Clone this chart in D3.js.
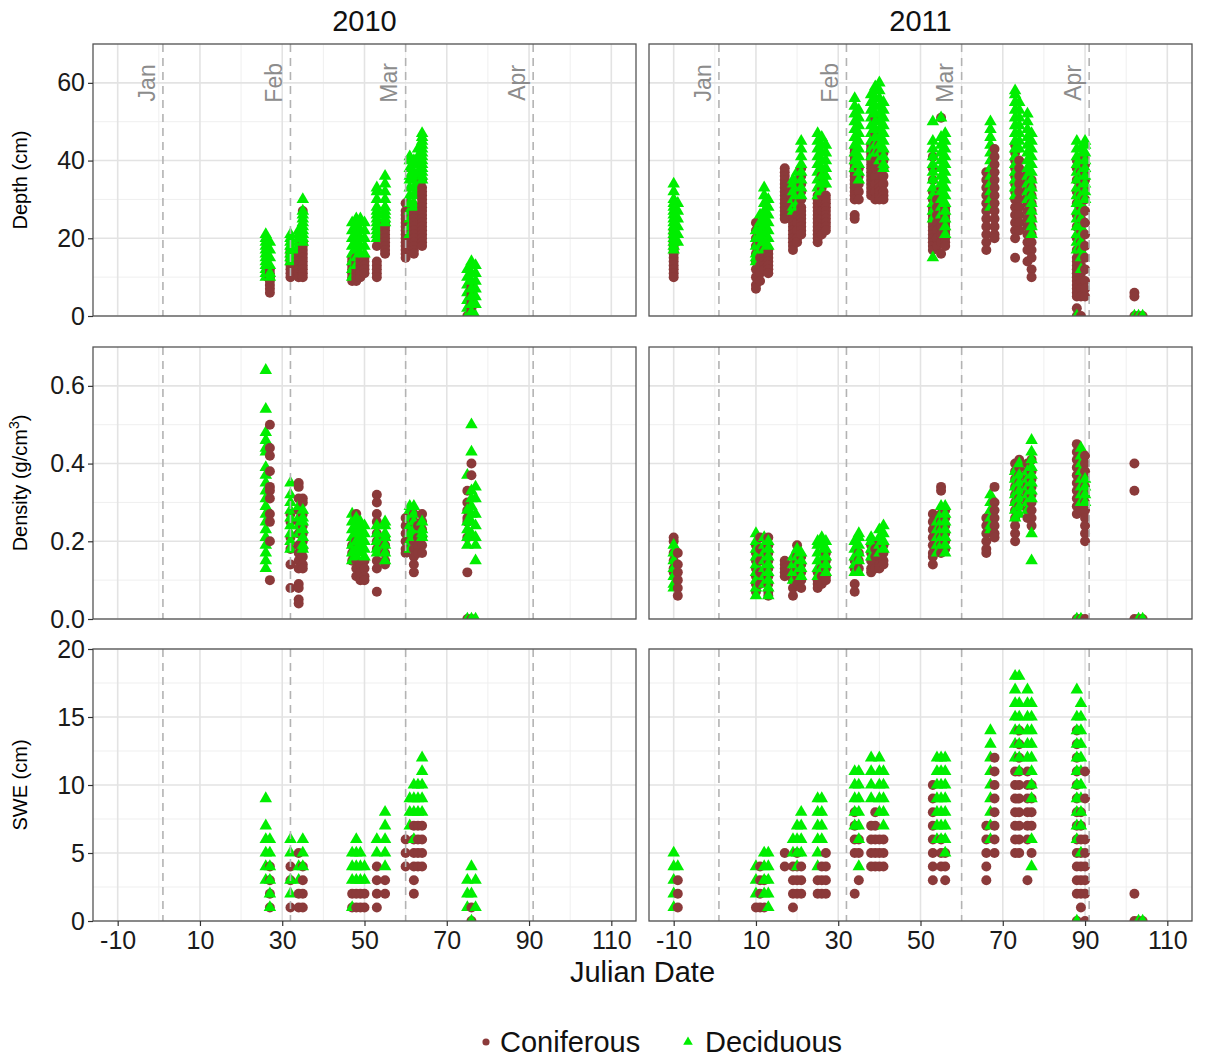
<!DOCTYPE html>
<html><head><meta charset="utf-8">
<script src="https://cdn.jsdelivr.net/npm/d3@7"></script>
<style>body{margin:0;background:#fff}svg{display:block;font-family:"Liberation Sans",Arial,sans-serif}</style>
</head><body>
<script>
// ---------- DATA ----------
const years = ["2010","2011"];
const xTicks = [-10,10,30,50,70,90,110];
const xTickLabels = ["-10","10","30","50","70","90","110"];
const xMinor = [0,20,40,60,80,100];
const depthTicks = [0,20,40,60];
const densityTicks = [0,0.2,0.4,0.6];
const sweTicks = [0,5,10,15,20];
const monthDays = [1,32,60,91];
const monthNames = ["Jan","Feb","Mar","Apr"];
const monthLabelX = [-3,28,56,87];
const seriesNames = ["Coniferous","Deciduous"];

const depth2010Con = [[27,[12,11,10,9,8,7,6]],[32,[17,16,15,14,13,12,11,10]],[34,[16,15,14,13,12,11,10]],[35,[27,19,18,17,16,15,14,13,12,11,10]],[47,[15,14,13,12,11,10,9]],[48,[15,14,13,12,11,10,9]],[49,[15,14,13,12,11,10]],[50,[15,14,13,12,11]],[53,[18,14,13,12,11,10]],[55,[24,23,22,21,20,19,18,17,16]],[60,[29,27,26,25,24,23,22,21,20,19,18,17,16,15]],[62,[28,27,26,25,24,23,22,21,20,19,18,17,16]],[64,[35,33,32,31,30,29,28,27,26,25,24,23,22,21,20,19,18]],[75,[0]],[76,[8,7,6,5,4,3,2,1,0]]];
const depth2010Dec = [[26,[21,20,19,18,17,16,15,14,13,12,11,10]],[27,[19,17,15,13,11,10]],[32,[21,20,19,18,17,16,15,14]],[34,[22,21,20,19,18,17]],[35,[30,27,26,25,24,23,22,21,20,19]],[47,[24,22,20,18,16,14,12,10]],[48,[25,23,21,19,17,15,13]],[49,[25,24,22,20,18,16]],[50,[24,22,20,18,16]],[53,[33,32,30,28,27,26,25,24,23,22,21,20]],[55,[36,34,32,30,28,27,26,25,24]],[61,[41,40,38,36,35,33,31,29,27,25,23,21]],[62,[40,39,37,35,33,31,29,28]],[63,[43,41,39,37,36,34,32]],[64,[47,46,45,44,43,42,41,40,39,38,37,36,35]],[75,[12,10,8,6,4,2,0]],[76,[14,13,11,9,7,5,3,1]],[77,[13,11,9,7,5,3,0]]];

const density2010Con = [[27,[0.50,0.44,0.42,0.38,0.34,0.33,0.31,0.27,0.25,0.2,0.1]],[32,[0.27,0.25,0.21,0.18,0.14,0.08]],[34,[0.35,0.34,0.31,0.28,0.25,0.22,0.19,0.17,0.15,0.13,0.09,0.08,0.05,0.04]],[35,[0.31,0.3,0.27,0.24,0.22,0.2,0.18,0.16,0.14,0.13]],[47,[0.19,0.17,0.15]],[48,[0.27,0.2,0.15,0.13,0.11]],[49,[0.14,0.12,0.1]],[50,[0.15,0.13,0.11,0.1]],[53,[0.32,0.3,0.27,0.25,0.22,0.2,0.18,0.15,0.13,0.07]],[55,[0.21,0.19,0.17,0.15,0.14]],[60,[0.26,0.24,0.22,0.2,0.18,0.17]],[62,[0.27,0.25,0.2,0.18,0.16,0.14,0.12]],[63,[0.24,0.21,0.19,0.17]],[64,[0.27,0.25,0.23,0.21,0.19,0.17]],[75,[0.33,0.3,0.28,0.26,0.25,0.21,0.12,0]],[76,[0.4,0.37,0]]];
const density2010Dec = [[26,[0.64,0.54,0.48,0.46,0.44,0.43,0.39,0.37,0.35,0.33,0.31,0.29,0.27,0.25,0.23,0.21,0.19,0.17,0.15,0.13]],[32,[0.35,0.32,0.30,0.28,0.26,0.24,0.22,0.20,0.18]],[34,[0.29,0.26,0.24,0.22]],[35,[0.28,0.26,0.25,0.23,0.21,0.19,0.18]],[47,[0.27,0.25,0.23,0.21,0.19,0.17,0.15]],[48,[0.26,0.24,0.22,0.2,0.18,0.16]],[49,[0.25,0.23,0.21,0.19,0.17]],[50,[0.24,0.22,0.2,0.18,0.16]],[53,[0.24,0.22,0.2,0.18,0.17]],[55,[0.25,0.24,0.22,0.21,0.19,0.17,0.15]],[61,[0.29,0.28,0.26,0.24,0.22,0.2,0.18]],[62,[0.29,0.27,0.25,0.23,0.21]],[64,[0.25,0.23,0.22,0.21]],[75,[0.37,0.28,0.25,0.23,0.21,0.19,0]],[76,[0.5,0.43,0.33,0.31,0.29,0.27,0.25,0.22,0]],[77,[0.34,0.31,0.27,0.24,0.21,0.19,0.15,0]]];

const swe2010Con = [[27,[4,3,2,1]],[32,[4,3,1]],[34,[5,2,1]],[35,[4,3,2,1]],[47,[2,1]],[48,[2,1]],[49,[2,1]],[50,[2,1]],[53,[4,3,2,1]],[55,[3,2]],[60,[6,5,4]],[62,[7,6,5,4,3,2]],[63,[7,6,5,4]],[64,[7,6,5,4]],[76,[1,0]]];
const swe2010Dec = [[26,[9,7,6,5,4,3]],[27,[6,5,4,3,2,1]],[32,[6,5,3,2]],[34,[4,3]],[35,[6,5,4]],[47,[5,4,3,1]],[48,[6,5,4,3]],[49,[5,4,3]],[50,[4,3]],[53,[6,5]],[55,[8,7,6,5,4]],[61,[9,8,7]],[62,[10,9,8,6]],[63,[10,9,8]],[64,[12,11,10,9,8]],[75,[3,2,1]],[76,[4,2,0]],[77,[3,1]]];

const depth2011Con = [[-10,[22,21,20,19,18,17,16,15,14,13,12,11,10]],[10,[24,22,20,18,16,14,12,10,8,7]],[11,[21,19,17,15,13,11,9]],[12,[17,16,15,14,13,12]],[13,[17,16,15,14,13,12,11]],[17,[38,37,36,35,34,33,32,31,30,29,28,27,26,25]],[19,[33,31,30,29,28,27,26,25,24,23,22,21,20,19,18,17]],[20,[30,28,26,24,22,20,19]],[21,[38,36,34,32,30,28,27,26,25,24,23,22,21]],[25,[31,30,29,28,27,26,25,24,23,22,21,20,19]],[26,[36,33,31,29,27,25,23,21]],[27,[31,30,29,28,27,26,25,24,23,22]],[34,[43,42,41,40,39,38,37,36,35,34,33,32,31,30,26,25]],[35,[38,36,34,32,30]],[38,[44,43,42,41,40,39,38,37,36,35,34,33,32,31]],[39,[51,47,44,42,40,38,36,34,32,30]],[40,[44,42,40,38,36,34,33,32,31,30]],[41,[42,40,38,36,34,32,31,30]],[53,[41,38,35,32,30,28,27,26,25,24,23,22,21,20,19,18,17]],[54,[30,28,26,24,22,20,18]],[55,[51,33,31,29,27,25,23,21,19,16]],[56,[28,27,26,25,24,23,22,21,20,19,18]],[66,[37,35,33,31,29,27,25,23,21,19,17]],[68,[43,41,39,37,35,33,31,29,27,25,23,21,20]],[73,[44,42,40,38,36,34,32,30,28,26,24,22,20,15]],[74,[40,38,36,34,32,30,28,26,24,22]],[76,[37,35,33,31,29,27,25,23,21,19,17,14]],[77,[35,33,31,29,27,25,23,21,19,17,15,12,10]],[88,[40,38,35,32,29,26,23,20,17,15,14,13,12,11,10,9,8,7,6,5,2,0]],[89,[37,34,31,28,25,22,19,17,15,13,11,9,7,5,0]],[90,[41,39,37,35,33,30,27,24,21,18,15,12,9,7,5]],[102,[6,5,0]],[103,[0]],[104,[0]]];
const depth2011Dec = [[-10,[34,32,30,29,28,27,26,25,24,23,22,21,20,19,18,17]],[-9,[29,27,25,23,21,19]],[10,[22,20,18,16,15,14]],[11,[26,24,22,21,20,18,17]],[12,[33,31,29,27,25,23,21,19,17]],[13,[30,28,26,24,22,20,18]],[19,[35,34,32,30,28,27]],[20,[37,35,33,31,29,28]],[21,[45,43,41,39,37,35,33,31]],[25,[47,45,43,41,39,37,35,33,31]],[26,[46,44,42,40,38,36,34,32]],[27,[44,42,40,38,36,34]],[34,[56,54,52,50,48,46,44,42,40,38]],[35,[53,51,49,47,45,43,41,39,37,35]],[38,[57,55,53,51,49,47,45,43,41]],[39,[59,58,56,54,52,50,48,46,44,42]],[40,[60,58,56,54,52,50,48,46,44,42,40]],[41,[55,53,51,49,47,45,43,41,39,38]],[53,[50,45,43,41,39,37,35,33,31,29,27,25,15]],[55,[51,46,44,42,40,38,36,34,32,30,28,26]],[56,[47,45,43,41,39,37,35,33,31,29,27,25,23,21]],[67,[50,48,46,44,42,40,38,36,34,32,30,28]],[73,[58,57,55,53,51,49,47,45,43,41,39,37,35,33,31]],[74,[55,53,51,49,47,45,43]],[76,[52,50,48,46,44,42,40,38,36,34,32,30]],[77,[47,45,43,41,39,37,35,33,31,29,27,25,23,21]],[88,[45,43,41,39,37,35,33,31,29,27,25,23,21,19,17,0]],[89,[43,41,39,37,35,33,31,29,27,25,23,21,19,17,15,12]],[90,[45,44,42,40,38,36,34,32,30]],[102,[0]],[103,[0]],[104,[0]]];

const density2011Con = [[-10,[0.21,0.2,0.17,0.15,0.13,0.12]],[-9,[0.17,0.14,0.12,0.1,0.08,0.06]],[10,[0.19,0.17,0.15,0.13,0.11,0.09,0.07]],[11,[0.21,0.18,0.15,0.12,0.09]],[13,[0.21,0.19,0.17,0.15,0.13,0.11,0.09,0.07,0.06]],[17,[0.15,0.14,0.13,0.12,0.11]],[19,[0.14,0.12,0.1,0.08,0.06]],[20,[0.19,0.16,0.15,0.13,0.11,0.09]],[21,[0.16,0.14,0.12,0.1,0.08]],[25,[0.12,0.1,0.09,0.08]],[26,[0.13,0.11,0.09]],[27,[0.17,0.15,0.13,0.11,0.1]],[34,[0.15,0.13,0.09,0.07]],[35,[0.17,0.15,0.13]],[38,[0.19,0.17,0.15,0.13,0.12]],[39,[0.18,0.16,0.14,0.13]],[40,[0.2,0.18,0.16,0.14,0.13]],[41,[0.19,0.17,0.15,0.14]],[53,[0.27,0.25,0.23,0.21,0.19,0.17,0.16,0.14]],[55,[0.34,0.33,0.27,0.25,0.23,0.21,0.19,0.17]],[56,[0.28,0.26,0.24,0.22,0.2,0.18]],[66,[0.26,0.24,0.22,0.2,0.18,0.17]],[68,[0.34,0.3,0.28,0.26,0.24,0.22,0.21]],[73,[0.4,0.38,0.36,0.34,0.32,0.3,0.28,0.26,0.24,0.22,0.2]],[74,[0.41,0.39,0.37,0.35,0.33,0.31,0.29]],[76,[0.4,0.38,0.36,0.34,0.32,0.3,0.28,0.26]],[77,[0.41,0.38,0.36,0.34,0.32,0.3,0.28,0.26,0.24]],[88,[0.45,0.43,0.41,0.39,0.37,0.35,0.33,0.31,0.29,0.27,0]],[89,[0.4,0.36,0.32,0.28,0]],[90,[0.42,0.4,0.38,0.36,0.34,0.32,0.3,0.28,0.26,0.24,0.22,0.2,0]],[102,[0.4,0.33,0]],[103,[0]],[104,[0]]];
const density2011Dec = [[-10,[0.19,0.17,0.15,0.13,0.11,0.09,0.08]],[10,[0.22,0.2,0.18,0.16,0.14,0.12,0.1,0.08,0.06]],[12,[0.21,0.19,0.17,0.15,0.13,0.11,0.09]],[13,[0.2,0.18,0.16,0.14,0.12,0.1,0.08,0.06]],[19,[0.16,0.14,0.12,0.1]],[20,[0.18,0.16,0.14,0.12]],[21,[0.17,0.15,0.13,0.11]],[25,[0.2,0.19,0.17,0.15,0.13,0.11]],[26,[0.21,0.19,0.17,0.15,0.13]],[27,[0.2,0.18,0.16,0.14,0.12]],[34,[0.2,0.18,0.16,0.14,0.12]],[35,[0.22,0.21,0.19,0.17,0.15,0.12]],[38,[0.21,0.2,0.18,0.16]],[40,[0.23,0.21,0.19,0.17]],[41,[0.24,0.22,0.2,0.18]],[54,[0.25,0.23,0.21,0.19,0.17]],[55,[0.29,0.27,0.25,0.23,0.21,0.19]],[56,[0.29,0.27,0.25,0.23,0.21,0.19,0.17]],[67,[0.32,0.3,0.28,0.26,0.24,0.23]],[73,[0.38,0.36,0.34,0.32,0.3,0.28,0.26]],[74,[0.4,0.37,0.35,0.33,0.31,0.29,0.27]],[76,[0.38,0.36,0.34,0.32,0.3,0.28]],[77,[0.46,0.43,0.41,0.39,0.37,0.35,0.33,0.31,0.22,0.15]],[88,[0]],[89,[0.44,0.42,0.4,0.38,0.36,0.34,0.32,0.3,0]],[90,[0.36,0.34,0.32,0.3]],[103,[0]],[104,[0]]];

const swe2011Con = [[-9,[3,2,1]],[10,[1]],[11,[4,3,2,1]],[12,[3,1]],[17,[5,4]],[19,[4,3,2,1]],[20,[5,4,3,2]],[21,[4,3,2]],[25,[3,2]],[26,[4,3,2]],[27,[5,4,3,2]],[34,[8,7,6,5,2]],[35,[6,5,3]],[38,[7,6,5,4]],[39,[8,7,6,5,4]],[40,[6,5,4]],[41,[6,5,4]],[53,[10,9,8,7,6,5,4,3]],[55,[6,5,4]],[56,[5,4,3]],[66,[7,6,5,4,3]],[68,[12,11,10,9,8,7,6,5]],[73,[11,10,9,8,7,6,5]],[74,[14,13,12,11,10,9,8,7,6,5]],[76,[11,10,9,8,7,6,3]],[77,[10,9,8,7,5]],[88,[14,13,12,11,10,9,8,7,6,5,4,3,2,0]],[89,[8,7,6,5,4,3,2,1]],[90,[11,9,6,5,4,3,2,0]],[102,[2,0]],[103,[0]],[104,[0]]];
const swe2011Dec = [[-10,[5,4,3,2,1]],[-9,[4]],[10,[4,3,2]],[12,[5,4,3,2]],[13,[5,4,3,2,1]],[19,[6,5]],[20,[7,6,5,4]],[21,[8,7,6,5]],[25,[9,8,7,6,5,4]],[26,[9,8,7,6]],[34,[11,10,9,8,7]],[35,[11,10,9,8,7,6,4]],[38,[12,11,10,9]],[40,[12,11,10,9,8]],[41,[11,10,9,8,7]],[54,[12,11,10,9,8,7,6]],[55,[12,11,10,9,8,7,6]],[56,[12,11,10,9,8,7,6,5]],[67,[14,13,12,11,10,9,8,7,6]],[73,[18,17,16,15,14,13,12]],[74,[18,16,15,14,13,12,11]],[76,[17,16,15,14,13,12]],[77,[16,15,14,13,12,11,10,9,6,4]],[88,[17,15,14,13,12,11,10,9,8,7,6,0]],[89,[16,15,14,13,12,11,10,9,8,7,5]],[103,[0]],[104,[0]]];

// ---------- LAYOUT ----------
const W = 1205, H = 1059;
const colors = {Coniferous:"#8B3A3A", Deciduous:"#00EE00"};
const cols = [{x0:93,x1:636},{x0:649,x1:1192}];
const rowsDef = [
  {y0:44, y1:316, dom:[0,70], ticks:depthTicks, labels:["0","20","40","60"], minor:[10,30,50,70], title:"Depth (cm)",
   data:[[depth2010Con,depth2010Dec],[depth2011Con,depth2011Dec]], months:true},
  {y0:347, y1:619, dom:[0,0.7], ticks:densityTicks, labels:["0.0","0.2","0.4","0.6"], minor:[0.1,0.3,0.5], title:"density",
   data:[[density2010Con,density2010Dec],[density2011Con,density2011Dec]], months:false},
  {y0:649, y1:921, dom:[0,20], ticks:sweTicks, labels:["0","5","10","15","20"], minor:[2.5,7.5,12.5,17.5], title:"SWE (cm)",
   data:[[swe2010Con,swe2010Dec],[swe2011Con,swe2011Dec]], months:false}
];

const svg = d3.select("body").append("svg").attr("width",W).attr("height",H);
svg.append("rect").attr("width",W).attr("height",H).attr("fill","#fff");
const defs = svg.append("defs");

const circ = d3.symbol().type(d3.symbolCircle).size(78);
const tri = d3.symbol().type(d3.symbolTriangle).size(68);

rowsDef.forEach((r, ri) => {
  const y = d3.scaleLinear().domain(r.dom).range([r.y1, r.y0]);
  cols.forEach((c, ci) => {
    const x = d3.scaleLinear().domain([-16,116]).range([c.x0, c.x1]);
    const g = svg.append("g");
    const cid = `clip${ri}${ci}`;
    defs.append("clipPath").attr("id",cid).append("rect")
      .attr("x",c.x0).attr("y",r.y0).attr("width",c.x1-c.x0).attr("height",r.y1-r.y0);
    g.selectAll(".mnx").data(xMinor).join("line")
      .attr("x1",d=>x(d)).attr("x2",d=>x(d)).attr("y1",r.y0).attr("y2",r.y1)
      .attr("stroke","#efefef").attr("stroke-width",1);
    g.selectAll(".mny").data(r.minor).join("line")
      .attr("x1",c.x0).attr("x2",c.x1).attr("y1",d=>y(d)).attr("y2",d=>y(d))
      .attr("stroke","#efefef").attr("stroke-width",1);
    g.selectAll(".mjx").data(xTicks).join("line")
      .attr("x1",d=>x(d)).attr("x2",d=>x(d)).attr("y1",r.y0).attr("y2",r.y1)
      .attr("stroke","#e3e3e3").attr("stroke-width",1.6);
    g.selectAll(".mjy").data(r.ticks).join("line")
      .attr("x1",c.x0).attr("x2",c.x1).attr("y1",d=>y(d)).attr("y2",d=>y(d))
      .attr("stroke","#e3e3e3").attr("stroke-width",1.6);

    const pts = [];
    const [con, dec] = r.data[ci];
    con.forEach(([day, vals]) => vals.forEach(v => pts.push({day, v, s:"Coniferous", o:0})));
    dec.forEach(([day, vals]) => vals.forEach(v => pts.push({day, v, s:"Deciduous", o:1})));
    pts.sort((a,b) => (a.day - b.day) || (a.o - b.o));
    const pg = g.append("g").attr("clip-path",`url(#${cid})`);
    pg.selectAll("path").data(pts).join("path")
      .attr("transform", d => `translate(${x(d.day)},${y(d.v)})`)
      .attr("d", d => d.s === "Coniferous" ? circ() : tri())
      .attr("fill", d => colors[d.s]);

    g.selectAll(".mline").data(monthDays).join("line")
      .attr("x1",d=>x(d)).attr("x2",d=>x(d)).attr("y1",r.y0).attr("y2",r.y1)
      .attr("stroke","#b3b3b3").attr("stroke-width",1.6).attr("stroke-dasharray","8,6");
    if (r.months) {
      g.selectAll(".mlab").data(monthNames).join("text")
        .attr("transform",(d,i)=>`translate(${x(monthLabelX[i])},${y(60)}) rotate(-90)`)
        .attr("text-anchor","middle").attr("dy","0.36em")
        .attr("font-size",23).attr("fill","#8c8c8c").text(d=>d);
    }
    g.append("rect").attr("x",c.x0).attr("y",r.y0).attr("width",c.x1-c.x0).attr("height",r.y1-r.y0)
      .attr("fill","none").attr("stroke","#555").attr("stroke-width",1.3);

    if (ci === 0) {
      const ax = svg.append("g").attr("transform",`translate(${c.x0},0)`)
        .call(d3.axisLeft(y).tickValues(r.ticks).tickFormat((d,i)=>r.labels[i]).tickSize(5).tickPadding(3));
      ax.select(".domain").remove();
      ax.selectAll("line").attr("stroke","#333").attr("stroke-width",1.2);
      ax.selectAll("text").attr("font-size",25).attr("fill","#1a1a1a").attr("font-family","Liberation Sans, Arial, sans-serif");
    }
    if (ri === 2) {
      const ax = svg.append("g").attr("transform",`translate(0,${r.y1})`)
        .call(d3.axisBottom(x).tickValues(xTicks).tickFormat((d,i)=>xTickLabels[i]).tickSize(5).tickPadding(5));
      ax.select(".domain").remove();
      ax.selectAll("line").attr("stroke","#333").attr("stroke-width",1.2);
      ax.selectAll("text").attr("font-size",25).attr("fill","#1a1a1a").attr("font-family","Liberation Sans, Arial, sans-serif");
    }
  });
  const ty = svg.append("text").attr("transform",`translate(27,${(r.y0+r.y1)/2}) rotate(-90)`)
    .attr("text-anchor","middle").attr("font-size",20).attr("fill","#000");
  if (r.title === "density") {
    ty.append("tspan").text("Density (g/cm");
    ty.append("tspan").attr("font-size",14).attr("dy",-8).text("3");
    ty.append("tspan").attr("dy",8).text(")");
  } else ty.text(r.title);
});

years.forEach((yr,i) => {
  svg.append("text").attr("x",(cols[i].x0+cols[i].x1)/2).attr("y",31)
    .attr("text-anchor","middle").attr("font-size",29).attr("fill","#111").text(yr);
});
svg.append("text").attr("x",(cols[0].x0+cols[1].x1)/2).attr("y",982)
  .attr("text-anchor","middle").attr("font-size",29).attr("fill","#111").text("Julian Date");

const lg = svg.append("g");
const legendPos = [{sx:486, tx:500},{sx:688, tx:705}];
seriesNames.forEach((s,i) => {
  lg.append("path").attr("transform",`translate(${legendPos[i].sx},1042)`)
    .attr("d", i===0 ? d3.symbol().type(d3.symbolCircle).size(40)() : d3.symbol().type(d3.symbolTriangle).size(40)())
    .attr("fill", colors[s]);
  lg.append("text").attr("x",legendPos[i].tx).attr("y",1052).attr("font-size",29).attr("fill","#111").text(s);
});
</script>
</body></html>
